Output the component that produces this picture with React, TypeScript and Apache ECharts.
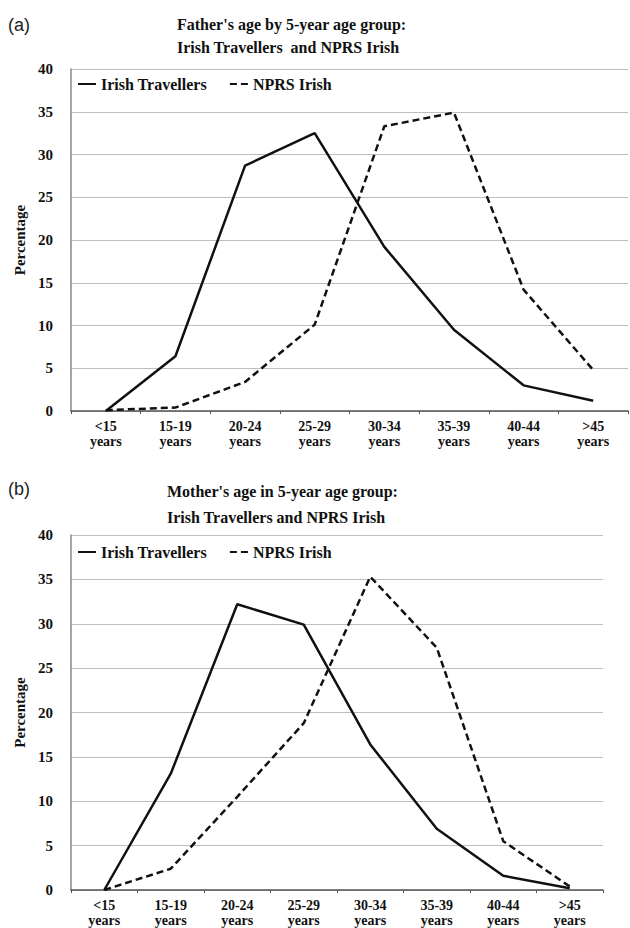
import React, { useEffect, useRef } from "react";
import * as echarts from "echarts";

const categories = ["<15\nyears", "15-19\nyears", "20-24\nyears", "25-29\nyears", "30-34\nyears", "35-39\nyears", "40-44\nyears", ">45\nyears"];
const fatherTravellers = [0, 6.4, 28.7, 32.5, 19.2, 9.5, 3.0, 1.2];
const fatherNPRS = [0.1, 0.4, 3.4, 10.1, 33.3, 34.9, 14.2, 4.8];
const motherTravellers = [0, 13.1, 32.2, 29.9, 16.4, 6.9, 1.6, 0.2];
const motherNPRS = [0, 2.4, 10.5, 18.8, 35.3, 27.3, 5.5, 0.4];
const yTicks = { min: 0, max: 40, interval: 5 };
const seriesNames = ["Irish Travellers", "NPRS Irish"];
const titleA = ["Father's age by 5-year age group:", "Irish Travellers  and NPRS Irish"];
const titleB = ["Mother's age in 5-year age group:", "Irish Travellers and NPRS Irish"];

const SERIF = "'Liberation Serif', 'Times New Roman', serif";

export default function App() {
  const ref = useRef<HTMLDivElement>(null);
  useEffect(() => {
    if (!ref.current) return;
    const chart = echarts.init(ref.current, undefined, { renderer: "svg" });
    const xAxisCommon = (gridIndex: number) => ({
      type: "category",
      gridIndex,
      data: categories,
      boundaryGap: true,
      axisLine: { lineStyle: { color: "#555", width: 1.5 } },
      axisTick: { show: true, length: 3, lineStyle: { color: "#555" } },
      axisLabel: {
        color: "#111",
        fontFamily: SERIF,
        fontWeight: "bold",
        fontSize: 14,
        lineHeight: 15,
        margin: 8,
        interval: 0,
      },
      splitLine: { show: false },
    });
    const yAxisCommon = (gridIndex: number) => ({
      type: "value",
      gridIndex,
      min: yTicks.min,
      max: yTicks.max,
      interval: yTicks.interval,
      name: "Percentage",
      nameLocation: "middle",
      nameRotate: 90,
      nameGap: 42,
      nameTextStyle: { color: "#111", fontFamily: SERIF, fontWeight: "bold", fontSize: 15 },
      axisLine: { show: true, lineStyle: { color: "#888", width: 1.5 } },
      axisTick: { show: false },
      axisLabel: { color: "#111", fontFamily: SERIF, fontWeight: "bold", fontSize: 15, margin: 18 },
      splitLine: { show: true, lineStyle: { color: "#bdbdbd", width: 1 } },
    });
    const solid = { color: "#111", width: 2.5, type: "solid" };
    const dashed = { color: "#111", width: 2.5, type: [7, 4] };
    const legendCommon = {
      itemWidth: 18,
      itemHeight: 10,
      itemGap: 22,
      itemStyle: { opacity: 0 },
      textStyle: { color: "#111", fontFamily: SERIF, fontWeight: "bold", fontSize: 16 },
      data: seriesNames,
    };
    const titleText = (lines: string[], top: number, left: number, gap: number) =>
      lines.map((t, i) => ({
        type: "text",
        left,
        top: top + i * gap,
        style: { text: t, fill: "#111", font: `bold 16px ${SERIF}` },
      }));
    chart.setOption({
      animation: false,
      backgroundColor: "#fff",
      grid: [
        { left: 71, right: 2, top: 69, bottom: 517 },
        { left: 71, right: 27, top: 535, bottom: 36 },
      ],
      xAxis: [xAxisCommon(0), xAxisCommon(1)],
      yAxis: [yAxisCommon(0), yAxisCommon(1)],
      legend: [
        { ...legendCommon, left: 72, top: 71 },
        { ...legendCommon, left: 72, top: 539 },
      ],
      series: [
        { name: seriesNames[0], type: "line", xAxisIndex: 0, yAxisIndex: 0, data: fatherTravellers, symbol: "none", lineStyle: solid, itemStyle: { color: "#111" } },
        { name: seriesNames[1], type: "line", xAxisIndex: 0, yAxisIndex: 0, data: fatherNPRS, symbol: "none", lineStyle: dashed, itemStyle: { color: "#111" } },
        { name: seriesNames[0], type: "line", xAxisIndex: 1, yAxisIndex: 1, data: motherTravellers, symbol: "none", lineStyle: solid, itemStyle: { color: "#111" } },
        { name: seriesNames[1], type: "line", xAxisIndex: 1, yAxisIndex: 1, data: motherNPRS, symbol: "none", lineStyle: dashed, itemStyle: { color: "#111" } },
      ],
      graphic: [
        { type: "text", left: 8, top: 16, style: { text: "(a)", fill: "#222", font: `18px 'Liberation Sans', Arial, sans-serif` } },
        { type: "text", left: 8, top: 480, style: { text: "(b)", fill: "#222", font: `18px 'Liberation Sans', Arial, sans-serif` } },
        ...titleText(titleA, 16, 177, 23),
        ...titleText(titleB, 483, 167, 26),
      ],
    });
    return () => chart.dispose();
  }, []);
  return <div ref={ref} style={{ position: "fixed", left: 0, top: 0, width: 630, height: 928 }} />;
}
